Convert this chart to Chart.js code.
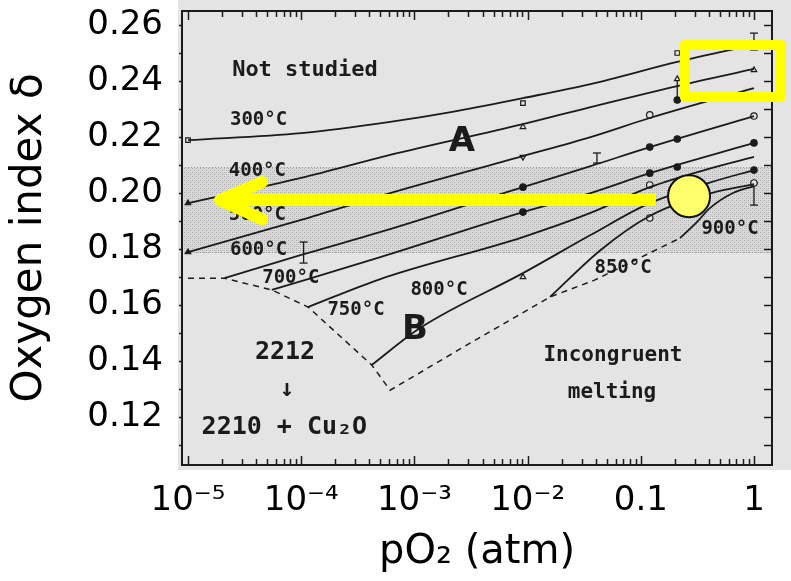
<!DOCTYPE html>
<html>
<head>
<meta charset="utf-8">
<script src="https://cdn.jsdelivr.net/npm/chart.js@4.4.1/dist/chart.umd.min.js"></script>
<style>
  html, body { margin: 0; padding: 0; background: #fff; }
  #wrap { width: 791px; height: 581px; }
</style>
</head>
<body>
<div id="wrap"><canvas id="phaseChart" width="791" height="581"></canvas></div>
<script>
(() => {
  'use strict';

  // axis ticks
  const xTicks = [1e-5, 1e-4, 1e-3, 1e-2, 0.1, 1];
  const xTickLabels = ['10\u207B\u2075', '10\u207B\u2074', '10\u207B\u00B3', '10\u207B\u00B2', '0.1', '1'];
  const yTicks = [0.12, 0.14, 0.16, 0.18, 0.20, 0.22, 0.24, 0.26];

  // isotherms: pO2 (atm) and oxygen index
  const p300 = [1e-5, 1e-4, 6.1e-4, 2.1e-3, 9.1e-3, 0.036, 0.21, 1];
  const d300 = [0.2189, 0.2214, 0.2254, 0.2289, 0.2339, 0.2389, 0.2468, 0.2529];
  const p400 = [1e-5, 1e-4, 6.1e-4, 9.1e-3, 0.036, 0.21, 1];
  const d400 = [0.1964, 0.2054, 0.2136, 0.2246, 0.2307, 0.2382, 0.2443];
  const p500 = [1e-5, 1e-4, 6.1e-4, 9.1e-3, 0.036, 0.12, 1];
  const d500 = [0.1789, 0.1904, 0.2000, 0.2132, 0.2200, 0.2268, 0.2375];
  const p600 = [2.1e-5, 1e-4, 6.1e-4, 9.1e-3, 0.036, 0.12, 1];
  const d600 = [0.1696, 0.1779, 0.1871, 0.2021, 0.2096, 0.2164, 0.2275];
  const p700 = [5.5e-5, 5.0e-4, 9.1e-3, 0.036, 0.12, 1];
  const d700 = [0.1654, 0.1771, 0.1932, 0.2000, 0.2071, 0.2179];
  const p750 = [1.15e-4, 5.0e-4, 9.1e-3, 0.036, 0.12, 0.42, 1];
  const d750 = [0.1593, 0.1693, 0.1843, 0.1929, 0.2021, 0.2089, 0.2129];
  const p800 = [4.2e-4, 1.12e-3, 9.1e-3, 0.036, 0.12, 0.42, 1];
  const d800 = [0.1386, 0.1518, 0.1714, 0.1850, 0.1964, 0.2039, 0.2082];
  const p850 = [0.0158, 0.044, 0.12, 0.42, 1];
  const d850 = [0.1629, 0.1796, 0.1918, 0.2000, 0.2032];
  const p900 = [0.222, 0.313, 0.408, 0.652, 1];
  const d900 = [0.1839, 0.1896, 0.1946, 0.2000, 0.2025];

  // stability limit (dashed)
  const pBound = [1e-5, 2.1e-5, 5.5e-5, 1.15e-4, 4.2e-4, 6.1e-4, 3.1e-3, 0.0158, 0.039, 0.12, 0.222];
  const dBound = [0.1696, 0.1696, 0.1654, 0.1593, 0.1386, 0.1296, 0.1464, 0.1629, 0.1689, 0.1786, 0.1839];

  // measured points
  const sqP = [1e-5, 9.1e-3, 0.21];
  const sqD = [0.2189, 0.2321, 0.2500];
  const triFillP = [1e-5, 1e-5];
  const triFillD = [0.1964, 0.1789];
  const triOpenP = [9.1e-3, 0.21, 1, 9.1e-3];
  const triOpenD = [0.2236, 0.2407, 0.2439, 0.1700];
  const triDownP = [9.1e-3];
  const triDownD = [0.2129];
  const dotP = [9.1e-3, 9.1e-3, 0.21, 0.12, 0.21, 0.12, 0.21, 1, 1, 0.12];
  const dotD = [0.2021, 0.1932, 0.2332, 0.2164, 0.2193, 0.2071, 0.2093, 0.2179, 0.2082, 0.1975];
  const circP = [0.12, 1, 0.12, 0.12, 1];
  const circD = [0.2279, 0.2275, 0.1911, 0.2029, 0.2036];

  // error bars
  const errP = [1.05e-4, 0.041, 1, 1, 0.21];
  const errHi = [0.1825, 0.2143, 0.2571, 0.2036, 0.2407];
  const errLo = [0.1750, 0.2107, 0.2511, 0.1957, 0.2332];

  // shaded composition band
  const bandD = [0.1786, 0.2093];

  const INK = '#1b1b1b';
  const PAPER = '#e4e4e4';

  const pts = (ps, ds) => ps.map((p, i) => ({ x: p, y: ds[i] }));

  const isotherm = (ps, ds) => ({
    data: pts(ps, ds),
    showLine: true,
    borderColor: INK,
    borderWidth: 1.8,
    pointRadius: 0,
    cubicInterpolationMode: 'monotone'
  });

  const markers = (ps, ds, style, filled, rotation) => ({
    data: pts(ps, ds),
    showLine: false,
    pointStyle: style,
    pointRotation: rotation || 0,
    pointRadius: 3.2,
    pointBorderWidth: 1.2,
    pointBorderColor: INK,
    pointBackgroundColor: filled ? INK : PAPER
  });

  const errorBars = errP.map((p, i) => ({
    data: [{ x: p, y: errHi[i] }, { x: p, y: errLo[i] }],
    showLine: true,
    borderColor: INK,
    borderWidth: 1.3,
    pointStyle: 'line',
    pointRadius: i === 4 ? 0 : 4,
    pointBorderColor: INK,
    pointBorderWidth: 1.3
  }));

  const datasets = [
    isotherm(p300, d300), isotherm(p400, d400), isotherm(p500, d500),
    isotherm(p600, d600), isotherm(p700, d700), isotherm(p750, d750),
    isotherm(p800, d800), isotherm(p850, d850), isotherm(p900, d900),
    {
      data: pts(pBound, dBound),
      showLine: true,
      borderColor: INK,
      borderWidth: 1.5,
      borderDash: [6, 5],
      pointRadius: 0,
      tension: 0
    },
    markers(sqP, sqD, 'rect', false),
    markers(triFillP, triFillD, 'triangle', true),
    markers(triOpenP, triOpenD, 'triangle', false),
    markers(triDownP, triDownD, 'triangle', false, 180),
    markers(dotP, dotD, 'circle', true),
    markers(circP, circD, 'circle', false),
    ...errorBars
  ];

  // text written inside the diagram, placed in data coordinates
  const mono = (px) => `bold ${px}px "DejaVu Sans Mono"`;
  const notes = [
    { text: 'Not studied', p: 1.08e-4, d: 0.2439, font: mono(22) },
    { text: '300°C', p: 4.2e-5, d: 0.2261, font: mono(19) },
    { text: '400°C', p: 4.1e-5, d: 0.2079, font: mono(19) },
    { text: '500°C', p: 4.1e-5, d: 0.1921, font: mono(19) },
    { text: '600°C', p: 4.2e-5, d: 0.1796, font: mono(19) },
    { text: '700°C', p: 8.1e-5, d: 0.1696, font: mono(19) },
    { text: '750°C', p: 3.05e-4, d: 0.1582, font: mono(19) },
    { text: '800°C', p: 1.65e-3, d: 0.1654, font: mono(19) },
    { text: '850°C', p: 0.0697, d: 0.1732, font: mono(19) },
    { text: '900°C', p: 0.614, d: 0.1871, font: mono(19) },
    { text: 'A', p: 2.63e-3, d: 0.2182, font: 'bold 34px "DejaVu Sans"' },
    { text: 'B', p: 1.01e-3, d: 0.1511, font: 'bold 34px "DejaVu Sans"' },
    { text: '2212', p: 7.2e-5, d: 0.1432, font: mono(25) },
    { text: '\u2193', p: 7.5e-5, d: 0.1296, font: mono(24) },
    { text: '2210 + Cu\u2082O', p: 7.1e-5, d: 0.1164, font: mono(25) },
    { text: 'Incongruent', p: 0.0568, d: 0.1421, font: mono(21) },
    { text: 'melting', p: 0.0557, d: 0.1289, font: mono(21) }
  ];

  // yellow highlights drawn on top
  const marks = {
    arrow: { from: 0.136, to: 1.92e-5, d: 0.1975 },
    dot: { p: 0.267, d: 0.1989, r: 21 },
    box: { p0: 0.245, p1: 1.73, d0: 0.2529, d1: 0.2343 }
  };

  function stipple(ctx) {
    const c = document.createElement('canvas');
    c.width = 4; c.height = 4;
    const g = c.getContext('2d');
    g.fillStyle = '#dadada';
    g.fillRect(0, 0, 4, 4);
    g.fillStyle = '#ababab';
    g.fillRect(0, 0, 1, 1);
    g.fillRect(2, 2, 1, 1);
    g.fillStyle = '#c4c4c4';
    g.fillRect(2, 0, 1, 1);
    g.fillRect(0, 2, 1, 1);
    return ctx.createPattern(c, 'repeat');
  }

  const scanBackground = {
    id: 'scanBackground',
    beforeDraw(chart) {
      const { ctx, chartArea: a, scales: { y } } = chart;
      ctx.save();
      ctx.fillStyle = PAPER;
      ctx.fillRect(a.left - 4, 0, chart.width - a.left + 4, a.bottom + 5);
      const top = y.getPixelForValue(bandD[1]);
      const bot = y.getPixelForValue(bandD[0]);
      ctx.fillStyle = stipple(ctx);
      ctx.fillRect(a.left, top, a.width, bot - top);
      ctx.strokeStyle = '#9a9a9a';
      ctx.lineWidth = 1;
      ctx.setLineDash([1, 2]);
      ctx.beginPath();
      ctx.moveTo(a.left, top + 0.5); ctx.lineTo(a.right, top + 0.5);
      ctx.moveTo(a.left, bot - 0.5); ctx.lineTo(a.right, bot - 0.5);
      ctx.stroke();
      ctx.restore();
    }
  };

  // frame with inward log ticks (top/bottom) and 0.01 ticks (sides)
  const frameTicks = {
    id: 'frameTicks',
    beforeDatasetsDraw(chart) {
      const { ctx, chartArea: a, scales: { x, y } } = chart;
      ctx.save();
      ctx.strokeStyle = INK;
      ctx.lineWidth = 1.5;
      ctx.beginPath();
      for (let k = -5; k <= 0; k++) {
        for (let m = 1; m <= 9; m++) {
          const v = m * Math.pow(10, k);
          if (v > x.max) break;
          const px = Math.round(x.getPixelForValue(v)) + 0.5;
          const len = m === 1 ? 9 : 6;
          ctx.moveTo(px, a.bottom); ctx.lineTo(px, a.bottom - len);
          ctx.moveTo(px, a.top); ctx.lineTo(px, a.top + len);
        }
      }
      for (let i = 11; i <= 26; i++) {
        const py = Math.round(y.getPixelForValue(i / 100)) + 0.5;
        ctx.moveTo(a.right, py); ctx.lineTo(a.right - 8, py);
        ctx.moveTo(a.left, py); ctx.lineTo(a.left - 3, py);
      }
      ctx.stroke();
      ctx.lineWidth = 2;
      ctx.strokeRect(a.left, a.top, a.width, a.height);
      ctx.restore();
    }
  };

  const figureNotes = {
    id: 'figureNotes',
    afterDatasetsDraw(chart) {
      const { ctx, scales: { x, y } } = chart;
      ctx.save();
      ctx.fillStyle = INK;
      ctx.textAlign = 'center';
      ctx.textBaseline = 'middle';
      notes.forEach(n => {
        ctx.font = n.font;
        ctx.fillText(n.text, x.getPixelForValue(n.p), y.getPixelForValue(n.d));
      });
      ctx.restore();
    }
  };

  const highlight = {
    id: 'highlight',
    afterDraw(chart) {
      const { ctx, scales: { x, y } } = chart;
      ctx.save();
      ctx.strokeStyle = '#ffff00';

      const ar = marks.arrow;
      const ya = y.getPixelForValue(ar.d);
      const xs = x.getPixelForValue(ar.from);
      const xt = x.getPixelForValue(ar.to);
      ctx.lineWidth = 12;
      ctx.lineCap = 'butt';
      ctx.beginPath();
      ctx.moveTo(xs, ya); ctx.lineTo(xt + 4, ya);
      ctx.stroke();
      ctx.lineCap = 'round';
      ctx.lineJoin = 'round';
      ctx.beginPath();
      ctx.moveTo(xt + 42, ya - 18); ctx.lineTo(xt, ya); ctx.lineTo(xt + 42, ya + 19);
      ctx.stroke();

      const b = marks.box;
      const bx0 = x.getPixelForValue(b.p0), bx1 = x.getPixelForValue(b.p1);
      const by0 = y.getPixelForValue(b.d0), by1 = y.getPixelForValue(b.d1);
      ctx.lineWidth = 10;
      ctx.strokeRect(bx0, by0, bx1 - bx0, by1 - by0);

      const c = marks.dot;
      ctx.beginPath();
      ctx.arc(x.getPixelForValue(c.p), y.getPixelForValue(c.d), c.r, 0, Math.PI * 2);
      ctx.fillStyle = '#ffff6c';
      ctx.fill();
      ctx.lineWidth = 2;
      ctx.strokeStyle = '#111';
      ctx.stroke();
      ctx.restore();
    }
  };

  new Chart(document.getElementById('phaseChart'), {
    type: 'scatter',
    data: { datasets },
    options: {
      responsive: false,
      animation: false,
      devicePixelRatio: 1,
      layout: { padding: { top: 11, right: 19, left: 0, bottom: 0 } },
      plugins: { legend: { display: false }, tooltip: { enabled: false } },
      scales: {
        x: {
          type: 'logarithmic',
          min: 8.85e-6,
          max: 1.443,
          grid: { display: false, drawTicks: false },
          border: { display: false },
          afterBuildTicks: s => { s.ticks = xTicks.map(v => ({ value: v })); },
          afterFit: s => { s.height = 116; s.paddingLeft = 0; s.paddingRight = 0; },
          ticks: {
            autoSkip: false,
            maxRotation: 0,
            padding: 16,
            color: '#000',
            font: { family: 'DejaVu Sans', size: 34 },
            callback: (v, i) => xTickLabels[i]
          },
          title: {
            display: true,
            text: 'pO\u2082 (atm)',
            color: '#000',
            font: { family: 'DejaVu Sans', size: 40 },
            padding: { top: 0, bottom: 4 }
          }
        },
        y: {
          type: 'linear',
          min: 0.1029,
          max: 0.265,
          grid: { display: false, drawTicks: false },
          border: { display: false },
          afterBuildTicks: s => { s.ticks = yTicks.map(v => ({ value: v })); },
          afterFit: s => { s.width = 182; s.paddingTop = 0; s.paddingBottom = 0; },
          ticks: {
            padding: 19,
            color: '#000',
            font: { family: 'DejaVu Sans', size: 34 },
            callback: v => v.toFixed(2)
          },
          title: {
            display: true,
            text: 'Oxygen index \u03B4',
            color: '#000',
            font: { family: 'DejaVu Sans', size: 42 },
            padding: { top: 5, bottom: 0 }
          }
        }
      }
    },
    plugins: [scanBackground, frameTicks, figureNotes, highlight]
  });
})();
</script>
</body>
</html>
